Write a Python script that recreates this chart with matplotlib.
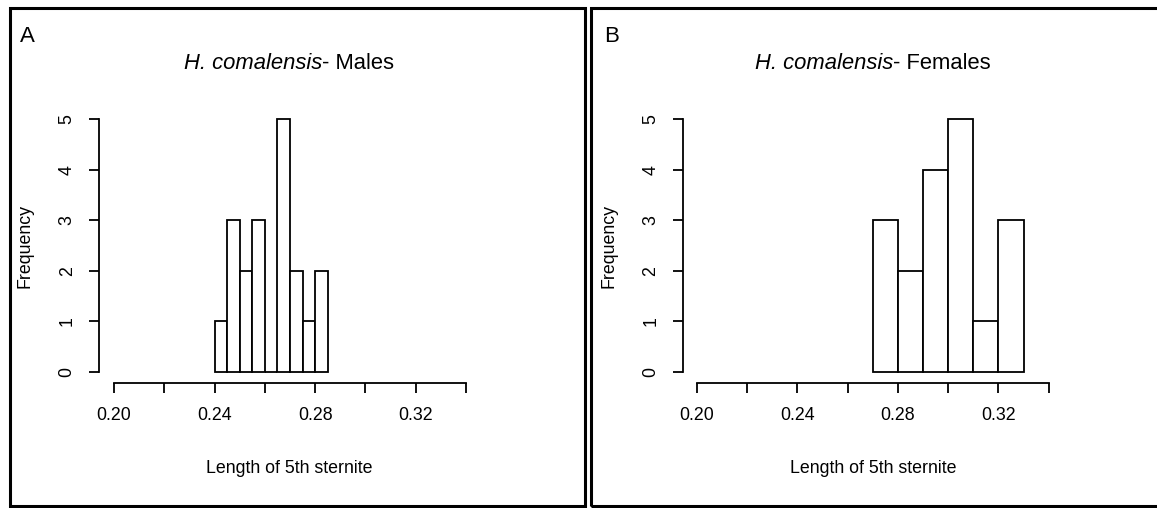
import matplotlib.pyplot as plt
from matplotlib.patches import Rectangle

plt.rcParams['font.family'] = ['Liberation Sans', 'DejaVu Sans']

# bin edges and counts
males_edges = [0.240, 0.245, 0.250, 0.255, 0.260, 0.265, 0.270, 0.275, 0.280, 0.285]
males_counts = [1, 3, 2, 3, 0, 5, 2, 1, 2]
females_edges = [0.27, 0.28, 0.29, 0.30, 0.31, 0.32, 0.33]
females_counts = [3, 2, 4, 5, 1, 3]

x_ticks = [0.20, 0.22, 0.24, 0.26, 0.28, 0.30, 0.32, 0.34]
x_ticklabels = ['0.20', '', '0.24', '', '0.28', '', '0.32', '']
y_ticks = [0, 1, 2, 3, 4, 5]

W, H = 1157, 508
fig = plt.figure(figsize=(W / 100, H / 100), dpi=100)


def px(x, y):
    return x / W, 1 - y / H


def panel(left, x020, x034, letter, sex, edges, counts):
    right = left + 380
    top, bottom = 110, 383.3
    y0, y5 = 371.7, 119.3
    sx = (x034 - x020) / 0.14
    sy = (y0 - y5) / 5
    ax = fig.add_axes([left / W, 1 - bottom / H, (right - left) / W, (bottom - top) / H])
    ax.set_xlim(0.20 - (x020 - left) / sx, 0.20 + (right - x020) / sx)
    ax.set_ylim(-(bottom - y0) / sy, 5 + (y5 - top) / sy)

    centers = [(edges[i] + edges[i + 1]) / 2 for i in range(len(counts))]
    ax.hist(centers, bins=edges, weights=counts, facecolor='white',
            edgecolor='black', linewidth=1.3)

    for s in ['top', 'right']:
        ax.spines[s].set_visible(False)
    ax.spines['left'].set_bounds(0, 5)
    ax.spines['bottom'].set_bounds(0.20, 0.34)
    ax.spines['left'].set_linewidth(1.3)
    ax.spines['bottom'].set_linewidth(1.3)
    ax.set_xticks(x_ticks)
    ax.set_xticklabels(x_ticklabels)
    ax.set_yticks(y_ticks)
    ax.set_yticklabels([str(v) for v in y_ticks], rotation=90, va='center')
    ax.tick_params(length=7, width=1.3, labelsize=12.8, pad=10, colors='black')

    # title: italic species name + plain text, centred over the plot
    cx = (left + right) / 2
    fig.canvas.draw()
    r = fig.canvas.get_renderer()
    t1 = fig.text(0, 0, 'H. comalensis', fontsize=15.8, style='italic')
    t2 = fig.text(0, 0, '- ' + sex, fontsize=15.8)
    w1 = t1.get_window_extent(r).width
    w2 = t2.get_window_extent(r).width
    start = cx - (w1 + w2) / 2
    t1.set_position(px(start, 69))
    t1.set_va('baseline')
    t2.set_position(px(start + w1, 69))
    t2.set_va('baseline')

    fig.text(*px(cx, 473), 'Length of 5th sternite', fontsize=12.8,
             ha='center', va='baseline')
    fig.text(*px(left - 74, 245.5), 'Frequency', fontsize=12.8, rotation=90,
             ha='center', va='center')
    fig.text(*px(left - 79, 42), letter, fontsize=16, ha='left', va='baseline')
    return ax


panel(99.3, 114, 466, 'A', 'Males', males_edges, males_counts)
panel(683, 697, 1048.7, 'B', 'Females', females_edges, females_counts)

# panel frames
for x1, x2 in [(9.5, 585), (590.5, 1170)]:
    fig.patches.append(Rectangle(px(x1, 506), (x2 - x1) / W, 498 / H,
                                 transform=fig.transFigure, fill=False,
                                 edgecolor='black', linewidth=2.2))

fig.savefig('out.png', dpi=100)
